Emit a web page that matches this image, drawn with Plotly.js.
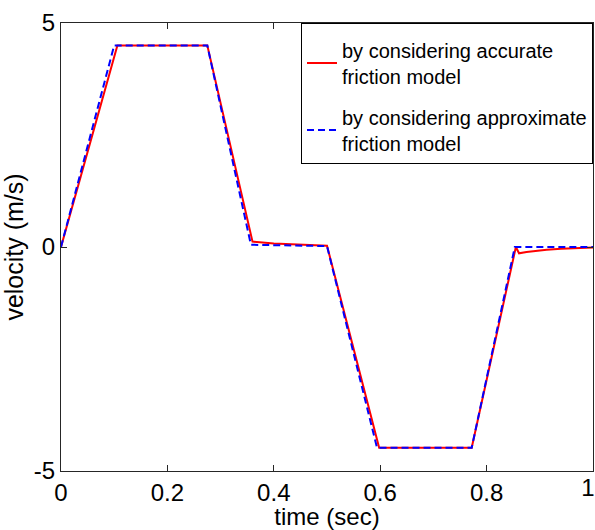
<!DOCTYPE html>
<html>
<head>
<meta charset="utf-8">
<script src="https://cdn.plot.ly/plotly-3.0.1.min.js"></script>
<style>
  html, body { margin: 0; padding: 0; background: #fff; }
  #chart { width: 595px; height: 530px; }
</style>
</head>
<body>
<div id="chart"></div>
<script>
// Velocity profile obtained with the accurate friction model
const timeAccurate = [0, 0.106, 0.275, 0.36, 0.40, 0.45, 0.5, 0.598, 0.772, 0.855, 0.861, 0.875, 0.895, 0.913, 0.94, 0.97, 1.0];
const velAccurate  = [0, 4.5, 4.5, 0.12, 0.08, 0.05, 0.03, -4.48, -4.48, 0.0, -0.14, -0.11, -0.08, -0.06, -0.04, -0.02, -0.01];

// Velocity profile obtained with the approximate friction model
const timeApprox = [0, 0.1, 0.275, 0.357, 0.5, 0.594, 0.772, 0.853, 1.0];
const velApprox  = [0, 4.5, 4.5, 0.05, 0.02, -4.48, -4.48, 0.0, 0.0];

// Axis ticks; the label at the right end sits on a companion axis so it can be nudged inward
const xTickVals = [0, 0.2, 0.4, 0.6, 0.8, 1];
const xTickText = ['0', '0.2', '0.4', '0.6', '0.8', '1'];
const yTickVals = [-5, 0, 5];
const yTickText = ['-5', '0', '5'];

const FONT = 'Liberation Sans, Arial, Helvetica, sans-serif';
const AXIS_COLOR = '#262626';

const traces = [
  {
    x: timeAccurate, y: velAccurate,
    type: 'scatter', mode: 'lines',
    name: 'by considering accurate<br>friction model',
    legendgroup: 'accurate',
    line: { color: '#ff0000', width: 2 }
  },
  {
    x: timeApprox, y: velApprox,
    xaxis: 'x2', yaxis: 'y',
    type: 'scatter', mode: 'lines',
    name: 'by considering approximate<br>friction model',
    legendgroup: 'approx',
    line: { color: '#0000ff', width: 2, dash: '7px,4px' }
  }
];

const axisCommon = {
  showline: true, linecolor: AXIS_COLOR, linewidth: 1,
  mirror: 'ticks', ticks: 'inside', ticklen: 6, tickwidth: 1, tickcolor: AXIS_COLOR,
  showgrid: false, zeroline: false,
  tickfont: { family: FONT, size: 24, color: '#000' },
  ticklabeloverflow: 'allow',
  automargin: false
};

const lastX = xTickVals.length - 1;

const layout = {
  width: 595, height: 530,
  margin: { l: 61, r: 2, t: 23, b: 59, autoexpand: false },
  paper_bgcolor: '#fff', plot_bgcolor: '#fff',
  font: { family: FONT, color: '#000' },
  xaxis: Object.assign({}, axisCommon, {
    range: [0, 1], tickmode: 'array',
    tickvals: xTickVals.slice(0, lastX), ticktext: xTickText.slice(0, lastX),
    title: { text: 'time (sec)', font: { family: FONT, size: 24, color: '#000' }, standoff: 0 }
  }),
  // companion axis carrying only the final label, shifted a few pixels left
  xaxis2: {
    overlaying: 'x', matches: 'x', anchor: 'y', side: 'bottom',
    range: [0, 1], tickmode: 'array',
    tickvals: xTickVals.slice(lastX), ticktext: xTickText.slice(lastX),
    ticks: 'inside', ticklen: 6, tickwidth: 1, tickcolor: AXIS_COLOR,
    showline: false, showgrid: false, zeroline: false,
    tickfont: { family: FONT, size: 24, color: '#000' },
    ticklabelshift: -5, ticklabeloverflow: 'allow', automargin: false
  },
  yaxis: Object.assign({}, axisCommon, {
    range: [-5, 5], tickmode: 'array', tickvals: yTickVals, ticktext: yTickText,
    title: { text: 'velocity (m/s)', font: { family: FONT, size: 25, color: '#000' }, standoff: 4 }
  }),
  showlegend: true,
  legend: {
    x: 1, y: 1, xanchor: 'right', yanchor: 'top',
    bgcolor: '#fff', bordercolor: '#000', borderwidth: 1,
    font: { family: FONT, size: 20, color: '#000' },
    title: { text: ' ', font: { family: FONT, size: 5 } },
    tracegroupgap: 12
  }
};

Plotly.newPlot('chart', traces, layout, { displayModeBar: false, staticPlot: true });
</script>
</body>
</html>
